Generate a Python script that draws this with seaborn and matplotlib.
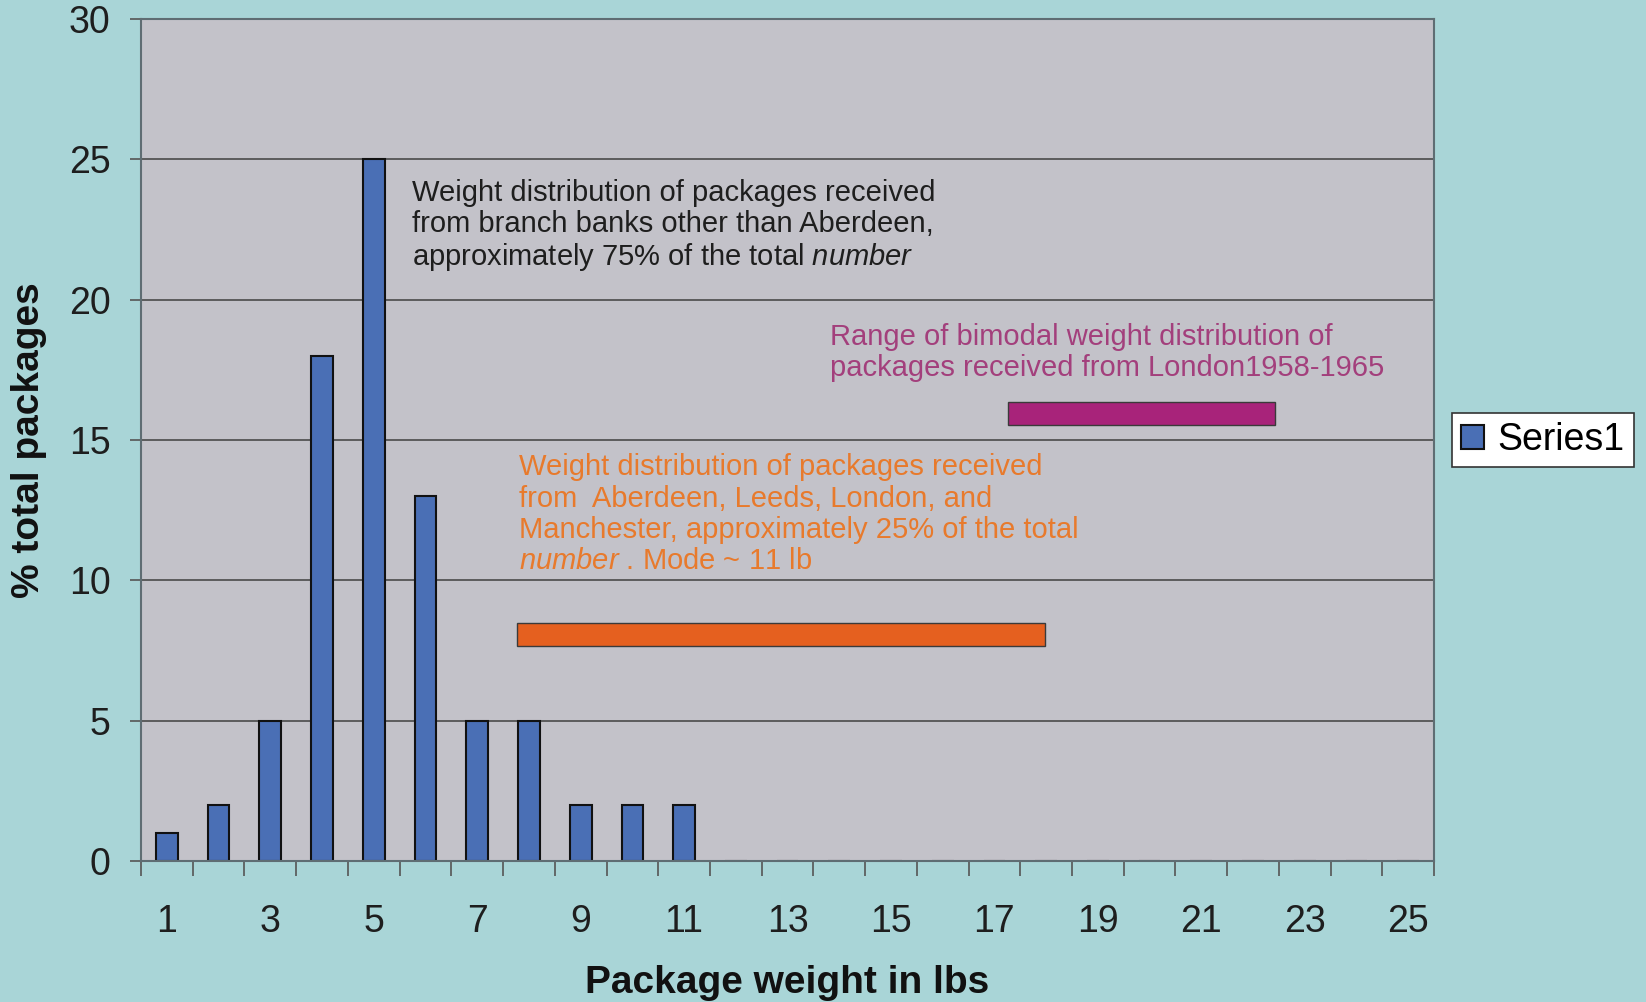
import matplotlib.pyplot as plt
import seaborn as sns
import pandas as pd
import numpy as np

# data
weights = [1, 2, 3, 4, 5, 6, 7, 8, 9, 10, 11, 12, 13,
           14, 15, 16, 17, 18, 19, 20, 21, 22, 23, 24, 25]
pct_packages = [1, 2, 5, 18, 25, 13, 5, 5, 2, 2, 2, 0, 0,
                0, 0, 0, 0, 0, 0, 0, 0, 0, 0, 0, 0]

# range bars (in lbs) drawn as annotations
range_start = [7.77, 17.27]
range_end = [17.98, 22.43]
range_level = [8.07, 15.95]
range_colors = ['#E5601F', '#A8237A']

notes = [
    'Weight distribution of packages received\nfrom branch banks other than Aberdeen,\napproximately 75% of the total $\\it{number}$',
    'Range of bimodal weight distribution of\npackages received from London1958-1965',
    'Weight distribution of packages received\nfrom  Aberdeen, Leeds, London, and\nManchester, approximately 25% of the total\n$\\it{number}$ . Mode ~ 11 lb',
]
note_x = [5.74, 13.82, 7.81]
note_y = [24.3, 19.17, 14.52]
note_colors = ['#1e1e1e', '#A33F7C', '#E87A2C']

fig_bg = '#A9D5D7'
plot_bg = '#C3C2C9'
bar_color = '#4A6FB5'

plt.rcParams['font.family'] = ['Liberation Sans', 'DejaVu Sans']
plt.rcParams['mathtext.fontset'] = 'custom'
plt.rcParams['mathtext.rm'] = 'Liberation Sans'
plt.rcParams['mathtext.it'] = 'Liberation Sans:italic'

df = pd.DataFrame({'weight': weights, 'pct': pct_packages})

fig = plt.figure(figsize=(16.46, 10.02), dpi=100, facecolor=fig_bg)
ax = fig.add_axes([0.0857, 0.1407, 0.7855, 0.8403])
ax.set_facecolor(plot_bg)

sns.barplot(data=df, x='weight', y='pct', width=0.42, color=bar_color,
            edgecolor='#111111', linewidth=1.5, saturation=1, label='Series1', ax=ax)

# gridlines
ax.set_ylim(0, 30)
ax.set_yticks(np.arange(0, 31, 5))
ax.yaxis.grid(True, color='#4a4a4a', linewidth=1.2)
ax.set_axisbelow(True)
ax.set_xlim(-0.5, len(weights) - 0.5)

# range bars
for lo, hi, lvl, col in zip(range_start, range_end, range_level, range_colors):
    ax.barh(lvl, hi - lo, left=lo - weights[0], height=0.8, color=col,
            edgecolor='#3a3a3a', linewidth=1.0, zorder=3)

for txt, x, y, col in zip(notes, note_x, note_y, note_colors):
    ax.text(x - weights[0], y, txt, color=col, fontsize=21, ha='left', va='top',
            linespacing=1.14, zorder=4)

# ticks: labels at odd weights, tick marks between categories
pos = np.arange(len(weights))
ax.set_xticks(pos[::2])
ax.set_xticklabels([str(w) for w in weights[::2]])
ax.set_xticks(np.arange(-0.5, len(weights), 1), minor=True)
ax.tick_params(axis='x', which='major', length=0, pad=31, labelsize=27, labelcolor='#1e1e1e')
ax.tick_params(axis='x', which='minor', length=11, width=1.2, color='#555555', direction='out')
ax.tick_params(axis='y', length=8, width=1.2, color='#555555', pad=14, labelsize=27,
               labelcolor='#1e1e1e')

for side in ['left', 'bottom', 'right', 'top']:
    ax.spines[side].set_color('#5f6d73')
    ax.spines[side].set_linewidth(1.5)

ax.set_xlabel('Package weight in lbs', fontsize=28, fontweight='bold', color='#111111', labelpad=18)
ax.set_ylabel('% total packages', fontsize=28, fontweight='bold', color='#111111', labelpad=16)

leg = ax.legend(loc='center left', bbox_to_anchor=(1.014, 0.5), fontsize=27,
                frameon=True, fancybox=False, edgecolor='#333333', facecolor='white',
                framealpha=1, handlelength=0.6, handleheight=0.6, handletextpad=0.35,
                borderpad=0.25, borderaxespad=0)
leg.get_frame().set_linewidth(1.2)

fig.savefig('out.png', dpi=100, facecolor=fig_bg)
